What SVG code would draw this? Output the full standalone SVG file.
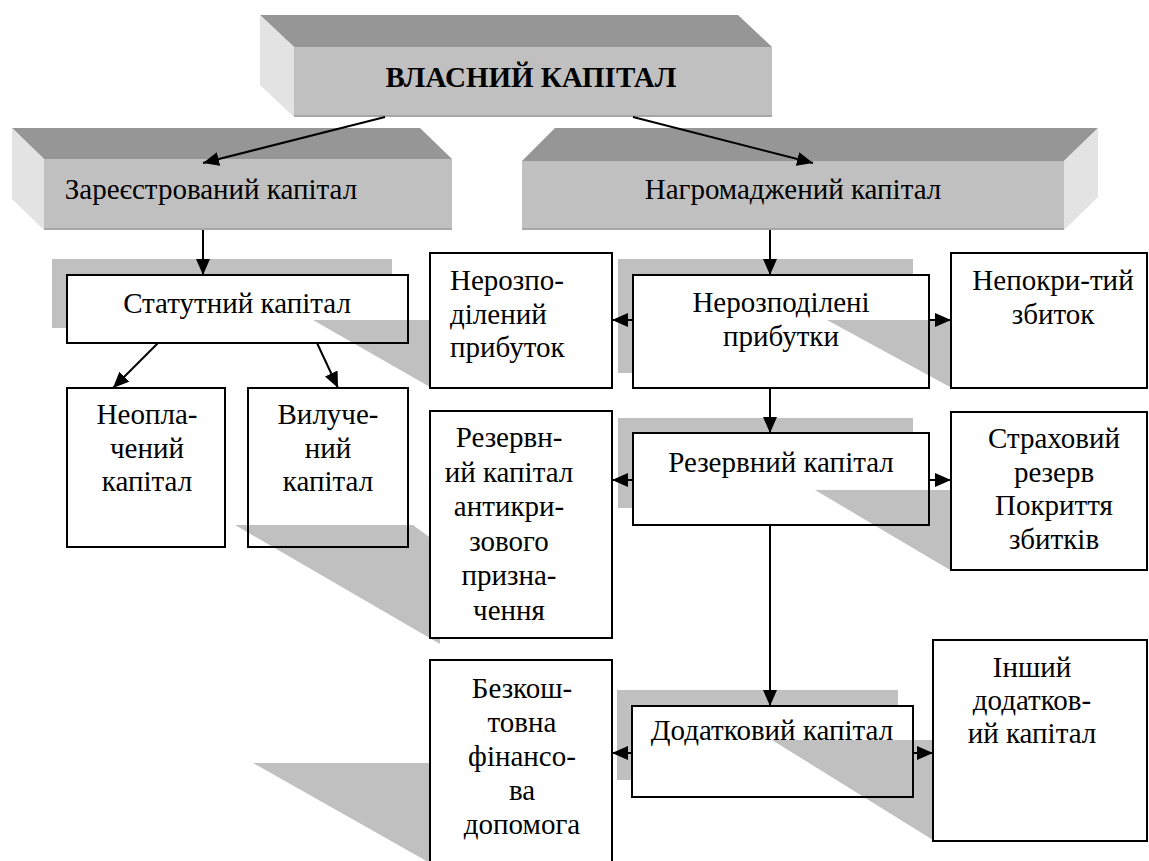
<svg xmlns="http://www.w3.org/2000/svg" width="1149" height="861" viewBox="0 0 1149 861">
<style>
.top{fill:#969696}
.front{fill:#c0c0c0}
.side{fill:#e3e3e3}
.edge{stroke:#a6a6a6;stroke-width:2;fill:none}
.sh{fill:#c0c0c0}
.fill{fill:#fff}
.bd{fill:none;stroke:#000;stroke-width:2}
.t{font-family:'Liberation Serif',serif;font-size:29px;fill:#000}
.c{text-anchor:middle}
.b{font-weight:bold}
.ln{stroke:#000;stroke-width:2;fill:none;marker-end:url(#ah)}
</style>
<defs>
<marker id="ah" markerWidth="17" markerHeight="14" refX="16" refY="7" orient="auto" markerUnits="userSpaceOnUse">
<path d="M0,0 L16,7 L0,14 Z" fill="#000"/>
</marker>
</defs>
<rect width="1149" height="861" fill="#fff"/>

<g id="vlasnyi">
<polygon class="top" points="260,15 738,15 772,47 294,47"/>
<polygon class="side" points="260,15 294,47 294,117 260,85"/>
<rect class="front" x="294" y="47" width="478" height="70"/>
<line class="edge" x1="294" y1="116" x2="772" y2="116"/>
<text class="t c b" x="531" y="87">ВЛАСНИЙ КАПІТАЛ</text>
</g>

<g id="zareiestrovanyi">
<polygon class="top" points="12,128 420,128 452,159 44,159"/>
<polygon class="side" points="12,128 44,159 44,230 12,199"/>
<rect class="front" x="44" y="159" width="408" height="71"/>
<line class="edge" x1="44" y1="229" x2="452" y2="229"/>
<text class="t c" x="211" y="199">Зареєстрований капітал</text>
</g>

<g id="nahromadzhenyi">
<polygon class="top" points="555,128 1098,128 1064,161 522,161"/>
<polygon class="side" points="1064,161 1098,128 1098,197 1064,230"/>
<rect class="front" x="522" y="161" width="542" height="69"/>
<line class="edge" x1="522" y1="229" x2="1064" y2="229"/>
<text class="t c" x="793" y="199">Нагромаджений капітал</text>
</g>

<g id="statutnyi">
<rect class="sh" x="52" y="259" width="340" height="69"/>
<rect class="fill" x="67" y="275" width="341" height="68"/>
<polygon class="sh" points="313,320 430,320 430,387"/>
<text class="t c" x="237" y="313">Статутний капітал</text>
<rect class="bd" x="67" y="275" width="341" height="68"/>
</g>

<g id="neoplachenyi">
<rect class="fill" x="67" y="388" width="158" height="159"/>
<text class="t c" x="147" y="424">Неопла-</text>
<text class="t c" x="147" y="457.5">чений</text>
<text class="t c" x="147" y="491">капітал</text>
<rect class="bd" x="67" y="388" width="158" height="159"/>
</g>

<g id="vyluchenyi">
<rect class="fill" x="248" y="388" width="160" height="159"/>
<polygon class="sh" points="235,525 413,525 440,545 440,644"/>
<text class="t c" x="328" y="424">Вилуче-</text>
<text class="t c" x="328" y="457.5">ний</text>
<text class="t c" x="328" y="491">капітал</text>
<rect class="bd" x="248" y="388" width="160" height="159"/>
</g>

<g id="nerozpodilenyi-prybutok">
<rect class="fill" x="430" y="253" width="182" height="135"/>
<text class="t" x="450" y="290">Нерозпо-</text>
<text class="t" x="450" y="323.5">ділений</text>
<text class="t" x="450" y="357">прибуток</text>
<rect class="bd" x="430" y="253" width="182" height="135"/>
</g>

<g id="nerozpodileni-prybutky">
<rect class="sh" x="618" y="259" width="295" height="114"/>
<rect class="fill" x="633" y="275" width="296" height="113"/>
<polygon class="sh" points="827,320 950,320 950,387"/>
<text class="t c" x="781" y="312">Нерозподілені</text>
<text class="t c" x="781" y="345.5">прибутки</text>
<rect class="bd" x="633" y="275" width="296" height="113"/>
</g>

<g id="nepokrytyi">
<rect class="fill" x="951" y="253" width="196" height="135"/>
<text class="t c" x="1053" y="290">Непокри-тий</text>
<text class="t c" x="1053" y="323.5">збиток</text>
<rect class="bd" x="951" y="253" width="196" height="135"/>
</g>

<g id="rezervnyi-antykryzovyi">
<rect class="fill" x="430" y="411" width="182" height="227"/>
<text class="t c" x="509" y="447">Резервн-</text>
<text class="t c" x="509" y="481.5">ий капітал</text>
<text class="t c" x="509" y="516">антикри-</text>
<text class="t c" x="509" y="550.5">зового</text>
<text class="t c" x="509" y="585">призна-</text>
<text class="t c" x="509" y="619.5">чення</text>
<rect class="bd" x="430" y="411" width="182" height="227"/>
</g>

<g id="rezervnyi">
<rect class="sh" x="618" y="418" width="295" height="90"/>
<rect class="fill" x="633" y="433" width="296" height="92"/>
<polygon class="sh" points="815,490 950,490 950,570"/>
<text class="t c" x="781" y="472">Резервний капітал</text>
<rect class="bd" x="633" y="433" width="296" height="92"/>
</g>

<g id="strakhovyi">
<rect class="fill" x="951" y="412" width="196" height="158"/>
<text class="t c" x="1054" y="448">Страховий</text>
<text class="t c" x="1054" y="481.5">резерв</text>
<text class="t c" x="1054" y="515">Покриття</text>
<text class="t c" x="1054" y="548.5">збитків</text>
<rect class="bd" x="951" y="412" width="196" height="158"/>
</g>

<g id="bezkoshtovna">
<polygon class="sh" points="253,763 430,763 430,863"/>
<rect class="fill" x="430" y="660" width="182" height="215"/>
<text class="t c" x="522" y="698">Безкош-</text>
<text class="t c" x="522" y="732">товна</text>
<text class="t c" x="522" y="766">фінансо-</text>
<text class="t c" x="522" y="800">ва</text>
<text class="t c" x="522" y="834">допомога</text>
<rect class="bd" x="430" y="660" width="182" height="215"/>
</g>

<g id="dodatkovyi">
<rect class="sh" x="617" y="690" width="281" height="90"/>
<rect class="fill" x="632" y="706" width="281" height="91"/>
<polygon class="sh" points="772,740 933,740 933,840"/>
<text class="t c" x="772" y="740">Додатковий капітал</text>
<rect class="bd" x="632" y="706" width="281" height="91"/>
</g>

<g id="inshyi">
<rect class="fill" x="933" y="640" width="214" height="201"/>
<text class="t c" x="1032" y="677">Інший</text>
<text class="t c" x="1032" y="710">додатков-</text>
<text class="t c" x="1032" y="743">ий капітал</text>
<rect class="bd" x="933" y="640" width="214" height="201"/>
</g>

<g id="connectors">
<line class="ln" x1="385" y1="117" x2="203" y2="163"/>
<line class="ln" x1="633" y1="117" x2="813" y2="163"/>
<line class="ln" x1="203" y1="230" x2="203" y2="275"/>
<line class="ln" x1="158" y1="343" x2="113" y2="388"/>
<line class="ln" x1="317" y1="343" x2="338" y2="388"/>
<line class="ln" x1="770" y1="230" x2="770" y2="275"/>
<line class="ln" x1="633" y1="320" x2="612" y2="320"/>
<line class="ln" x1="929" y1="320" x2="951" y2="320"/>
<line class="ln" x1="770" y1="388" x2="770" y2="433"/>
<line class="ln" x1="633" y1="480" x2="612" y2="480"/>
<line class="ln" x1="929" y1="480" x2="951" y2="480"/>
<line class="ln" x1="770" y1="525" x2="770" y2="706"/>
<line class="ln" x1="632" y1="753" x2="612" y2="753"/>
<line class="ln" x1="913" y1="753" x2="933" y2="753"/>
</g>
</svg>
